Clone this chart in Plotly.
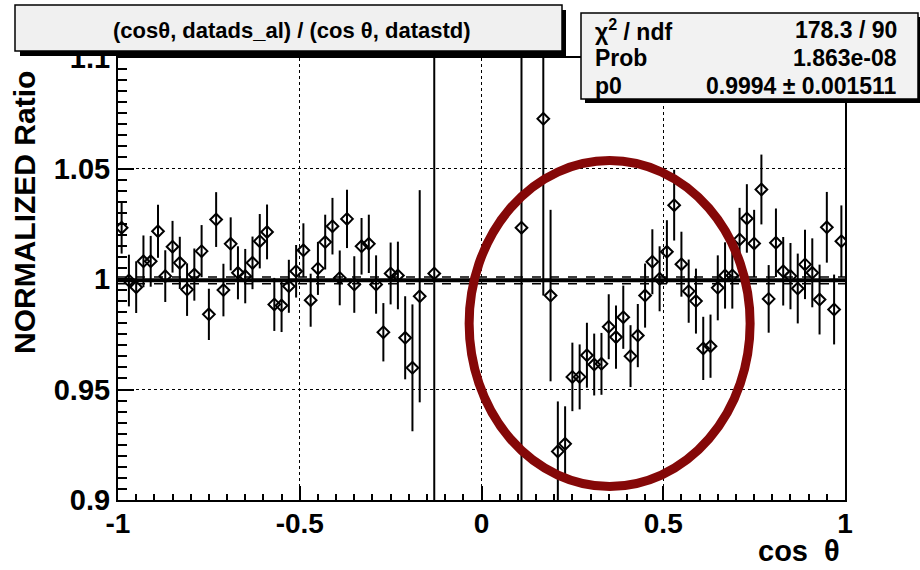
import plotly.graph_objects as go

# ---------------- data ----------------
cos_theta = [
    -0.99, -0.97, -0.95, -0.93, -0.91, -0.89, -0.87, -0.85, -0.83, -0.81,
    -0.79, -0.77, -0.75, -0.73, -0.71, -0.69, -0.67, -0.65, -0.63, -0.61,
    -0.59, -0.57, -0.55, -0.53, -0.51,
    -0.49, -0.47, -0.45, -0.43, -0.41, -0.39, -0.37, -0.35, -0.33, -0.31,
    -0.29, -0.27, -0.25, -0.23, -0.21, -0.19, -0.17,
    -0.13, 0.11,
    0.17, 0.19, 0.21, 0.23, 0.25, 0.27, 0.29, 0.31, 0.33, 0.35,
    0.37, 0.39, 0.41, 0.43, 0.45, 0.47,
    0.49, 0.51, 0.53, 0.55, 0.57, 0.59, 0.61, 0.63, 0.65, 0.67,
    0.69, 0.71, 0.73, 0.75, 0.77, 0.79, 0.81, 0.83, 0.85, 0.87,
    0.89, 0.91, 0.93, 0.95, 0.97, 0.99,
]
ratio = [
    1.0232, 0.9993, 0.9963, 1.0080, 1.0080, 1.0216, 1.0013, 1.0146, 1.0073, 0.9952,
    1.0020, 1.0126, 0.9840, 1.0269, 0.9950, 1.0159, 1.0028, 1.0013, 1.0073, 1.0171,
    1.0213, 0.9885, 0.9880, 0.9967, 1.0035,
    1.0130, 0.9904, 1.0048, 1.0167, 1.0239, 1.0005, 1.0272, 0.9975, 1.0148, 1.0159,
    0.9975, 0.9759, 1.0025, 1.0016, 0.9734, 0.9598, 0.9922,
    1.0025, 1.0232,
    1.0725, 0.9925, 0.9220, 0.9254, 0.9557, 0.9557, 0.9655, 0.9613, 0.9616, 0.9784,
    0.9737, 0.9827, 0.9651, 0.9744, 0.9925, 1.0078,
    1.0001, 1.0123, 1.0334, 1.0067, 0.9945, 0.9900, 0.9686, 0.9696, 0.9960, 1.0016,
    1.0016, 1.0179, 1.0274, 1.0161, 1.0405, 0.9910, 1.0164, 1.0035, 1.0013, 0.9957,
    1.0066, 1.0028, 0.9907, 1.0234, 0.9862, 1.0171,
]
ratio_err = [
    0.0117, 0.0117, 0.0117, 0.0117, 0.0115, 0.0120, 0.0117, 0.0117, 0.0118, 0.0119,
    0.0118, 0.0118, 0.0116, 0.0124, 0.0119, 0.0120, 0.0120, 0.0123, 0.0119, 0.0123,
    0.0124, 0.0120, 0.0120, 0.0120, 0.0119,
    0.0122, 0.0120, 0.0120, 0.0124, 0.0128, 0.0124, 0.0132, 0.0128, 0.0128, 0.0132,
    0.0132, 0.0132, 0.0140, 0.0153, 0.0188, 0.0287, 0.0480,
    0.3000, 0.3000,
    0.0800, 0.0388, 0.0226, 0.0170, 0.0155, 0.0147, 0.0147, 0.0140, 0.0140, 0.0147,
    0.0143, 0.0143, 0.0140, 0.0143, 0.0145, 0.0147,
    0.0147, 0.0143, 0.0160, 0.0147, 0.0143, 0.0147, 0.0143, 0.0143, 0.0147, 0.0150,
    0.0150, 0.0143, 0.0155, 0.0152, 0.0158, 0.0153, 0.0155, 0.0155, 0.0150, 0.0158,
    0.0157, 0.0156, 0.0158, 0.0160, 0.0158, 0.0162,
]

fit_p0 = 0.9994
fit_p0_err = 0.001511
fit_range = [-1.0, 1.0]

x_tickvals = [-1, -0.5, 0, 0.5, 1]
x_ticktext = ["-1", "-0.5", "0", "0.5", "1"]
y_tickvals = [0.9, 0.95, 1.0, 1.05, 1.1]
y_ticktext = ["0.9", "0.95", "1", "1.05", "1.1"]

title_text = "(cosθ, datads_al) / (cos θ, datastd)"
stats_labels = ["χ<sup>2</sup> / ndf", "Prob", "p0"]
stats_values = ["178.3 / 90", "1.863e-08", "0.9994 ± 0.001511"]

# highlighted region (ellipse) in data coordinates
ellipse_x = [-0.034, 0.739]
ellipse_y = [0.9061, 1.0536]

# ---------------- figure ----------------
W, H = 920, 570
ML, MR, MT, MB = 118, 75, 58, 70
PW, PH = W - ML - MR, H - MT - MB


def px(X):
    return (X - ML) / PW


def py(Y):
    return (H - MB - Y) / PH


FONT = "Liberation Sans, Arial, Helvetica, sans-serif"

fig = go.Figure()

# fit line and its error band edges
for off in (fit_p0_err, -fit_p0_err):
    fig.add_trace(go.Scatter(
        x=fit_range, y=[fit_p0 + off] * 2, mode="lines",
        line=dict(color="black", width=1.5, dash="dash"), hoverinfo="skip", showlegend=False))
fig.add_trace(go.Scatter(
    x=fit_range, y=[fit_p0] * 2, mode="lines",
    line=dict(color="black", width=4), hoverinfo="skip", showlegend=False))

# data points
fig.add_trace(go.Scatter(
    x=cos_theta, y=ratio, mode="markers",
    marker=dict(symbol="diamond-open", size=9, color="black", line=dict(width=2, color="black")),
    error_y=dict(type="data", array=ratio_err, visible=True, color="black", thickness=2, width=0),
    showlegend=False))

fig.update_xaxes(
    range=[-1, 1], tickvals=x_tickvals, ticktext=x_ticktext,
    showline=True, linecolor="black", linewidth=2, mirror=True,
    ticks="inside", ticklen=14, tickwidth=1.5, tickcolor="black",
    minor=dict(ticks="inside", dtick=0.05, ticklen=6, tickwidth=1.5, tickcolor="black", showgrid=False),
    showgrid=True, gridcolor="black", griddash="dot", gridwidth=1,
    zeroline=False,
    tickfont=dict(family=FONT, size=28, color="black", weight="bold"),
    ticklabelstandoff=-3,
)
fig.update_yaxes(
    range=[0.9, 1.1], tickvals=y_tickvals, ticktext=y_ticktext,
    showline=True, linecolor="black", linewidth=2, mirror=True,
    ticks="inside", ticklen=16, tickwidth=1.5, tickcolor="black",
    minor=dict(ticks="inside", dtick=0.005, ticklen=9, tickwidth=1.5, tickcolor="black", showgrid=False),
    showgrid=True, gridcolor="black", griddash="dot", gridwidth=1,
    zeroline=False,
    tickfont=dict(family=FONT, size=29, color="black", weight="bold"),
    ticklabelstandoff=0,
)

shapes = [
    # highlight ellipse
    dict(type="circle", xref="x", yref="y", x0=ellipse_x[0], x1=ellipse_x[1],
         y0=ellipse_y[0], y1=ellipse_y[1], line=dict(color="#850808", width=9), layer="above"),
    # title box shadow + box
    dict(type="rect", xref="paper", yref="paper", x0=px(20), x1=px(566), y0=py(10), y1=py(56),
         fillcolor="black", line=dict(width=0), layer="above"),
    dict(type="rect", xref="paper", yref="paper", x0=px(15), x1=px(562), y0=py(5), y1=py(51),
         fillcolor="#f0f0f0", line=dict(color="black", width=1.5), layer="above"),
    # stats box shadow + box
    dict(type="rect", xref="paper", yref="paper", x0=px(585), x1=px(924), y0=py(17), y1=py(103),
         fillcolor="black", line=dict(width=0), layer="above"),
    dict(type="rect", xref="paper", yref="paper", x0=px(581), x1=px(918), y0=py(13), y1=py(99),
         fillcolor="#f2f2f2", line=dict(color="black", width=1.5), layer="above"),
]

annotations = [
    dict(text=title_text, xref="paper", yref="paper", x=px(292), y=py(30),
         xanchor="center", yanchor="middle", showarrow=False,
         font=dict(family=FONT, size=22, color="black", weight="bold")),
    dict(text="NORMALIZED Ratio", xref="paper", yref="paper", x=px(24), y=py(212),
         xanchor="center", yanchor="middle", showarrow=False, textangle=-90,
         font=dict(family=FONT, size=30, color="black", weight="bold")),
    dict(text="cos  θ", xref="paper", yref="paper", x=px(842), y=py(551),
         xanchor="right", yanchor="middle", showarrow=False,
         font=dict(family=FONT, size=29, color="black", weight="bold")),
]
row_y = [30, 58, 86]
for lab, val, yy in zip(stats_labels, stats_values, row_y):
    annotations.append(dict(text=lab, xref="paper", yref="paper", x=px(593), y=py(yy),
                            xanchor="left", yanchor="middle", showarrow=False,
                            font=dict(family=FONT, size=23, color="black", weight="bold")))
    annotations.append(dict(text=val, xref="paper", yref="paper", x=px(899), y=py(yy),
                            xanchor="right", yanchor="middle", showarrow=False,
                            font=dict(family=FONT, size=23, color="black", weight="bold")))

fig.update_layout(
    width=W, height=H,
    margin=dict(l=ML, r=MR, t=MT, b=MB),
    paper_bgcolor="white", plot_bgcolor="white",
    shapes=shapes, annotations=annotations,
    showlegend=False,
)

fig.write_html("out.html", config={"displayModeBar": False},
               post_script="document.body.style.margin='0';document.body.style.padding='0';")
